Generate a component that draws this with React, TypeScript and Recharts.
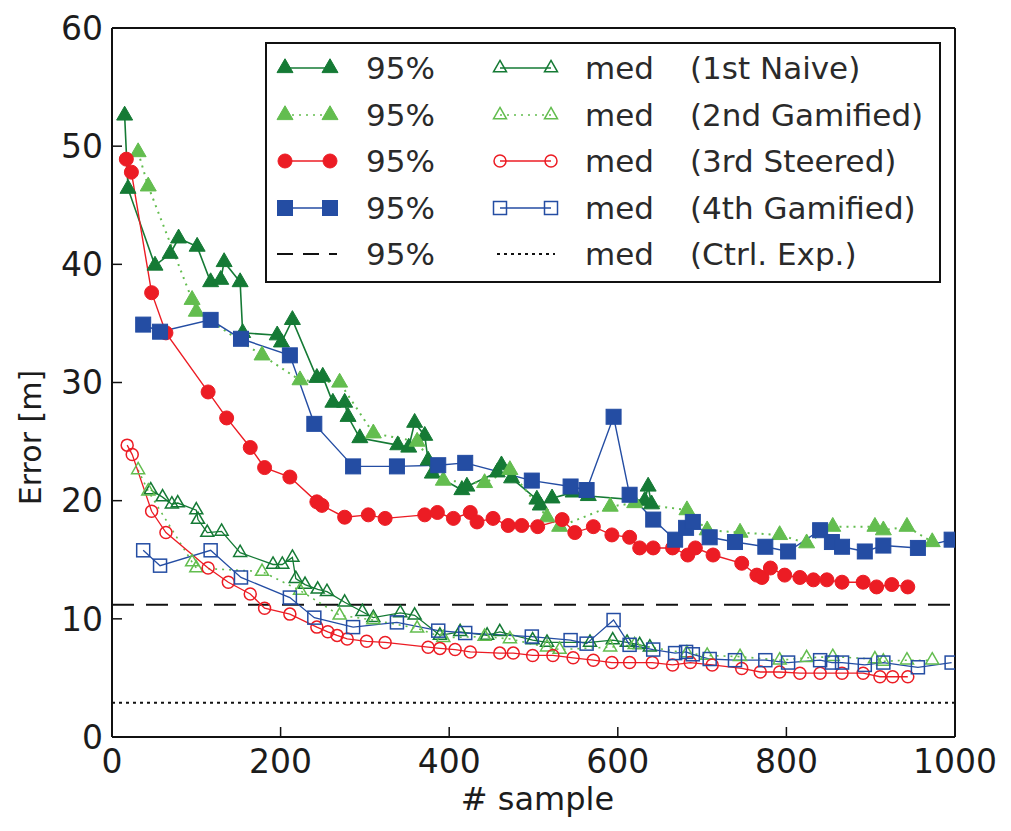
import React from 'react';
import { LineChart, Line, XAxis, YAxis, ReferenceLine } from 'recharts';

// ---------- data ----------
const X_TICKS = [0, 200, 400, 600, 800, 1000];
const Y_TICKS = [0, 10, 20, 30, 40, 50, 60];
const CTRL_95 = 11.2;
const CTRL_MED = 2.9;

const naive95: [number, number][] = [
  [15, 52.6], [19, 46.4], [51, 39.9], [69, 40.9], [79, 42.2], [101, 41.5], [117, 38.5], [129, 38.7], [133, 40.2],
  [152, 38.5], [155, 34.2], [196, 34.0], [201, 33.4], [214, 35.3], [243, 30.4], [250, 30.5], [262, 28.3], [276, 28.3],
  [280, 27.1], [294, 25.3], [339, 24.7], [352, 24.5], [359, 26.6], [371, 25.5], [375, 23.4], [380, 22.3], [415, 20.9],
  [421, 21.2], [457, 22.4], [462, 23.0], [474, 21.9], [504, 20.1], [508, 19.6], [522, 20.2], [547, 20.7], [565, 20.4],
  [632, 20.0], [636, 21.2], [640, 19.7],
];
const naiveMed: [number, number][] = [
  [46, 20.9], [60, 20.3], [71, 19.7], [78, 19.8], [100, 19.2], [102, 18.4], [113, 17.3], [130, 17.4], [152, 15.6],
  [191, 14.6], [202, 14.6], [214, 15.2], [218, 13.4], [229, 12.9], [244, 12.5], [255, 12.3], [276, 11.4], [297, 10.6],
  [310, 10.1], [342, 10.5], [359, 10.3], [389, 8.6], [413, 8.9], [445, 8.6], [460, 8.9], [499, 8.2], [516, 8.0],
  [567, 8.0], [594, 8.2], [611, 8.0], [626, 7.8], [638, 7.6],
];
const gam2_95: [number, number][] = [
  [31, 49.5], [43, 46.6], [95, 37.0], [100, 36.0], [178, 32.3], [223, 30.2], [270, 30.0], [310, 25.7], [362, 25.0],
  [393, 21.7], [442, 21.5], [472, 22.6], [516, 18.6], [531, 17.8], [591, 19.5], [620, 19.8], [682, 19.2], [706, 17.5],
  [745, 17.3], [792, 17.1], [824, 16.4], [855, 17.8], [905, 17.8], [915, 17.5], [943, 17.8], [973, 16.5],
];
const gam2Med: [number, number][] = [
  [31, 22.6], [43, 20.8], [95, 14.8], [100, 14.3], [178, 14.0], [223, 12.4], [270, 10.3], [310, 9.9], [362, 9.2],
  [393, 8.4], [442, 8.5], [472, 8.3], [516, 7.6], [531, 7.4], [591, 7.6], [620, 7.8], [682, 7.1], [706, 6.9],
  [745, 6.8], [792, 6.5], [824, 6.7], [855, 6.8], [905, 6.6], [915, 6.4], [943, 6.5], [973, 6.5],
];
const steered95: [number, number][] = [
  [17, 48.9], [23, 47.8], [47, 37.6], [64, 34.2], [114, 29.2], [136, 27.0], [164, 24.5], [181, 22.8], [211, 22.0],
  [243, 19.9], [249, 19.6], [276, 18.6], [304, 18.8], [324, 18.5], [371, 18.8], [386, 19.0], [405, 18.5], [425, 19.0],
  [433, 18.2], [452, 18.5], [470, 17.9], [486, 17.9], [505, 17.8], [534, 18.4], [549, 17.3], [571, 17.8], [593, 17.1],
  [614, 16.9], [626, 16.0], [642, 16.0], [665, 16.0], [683, 15.4], [692, 16.0], [713, 15.4], [747, 14.7], [765, 13.7],
  [771, 13.5], [781, 14.3], [798, 13.7], [816, 13.5], [832, 13.3], [848, 13.3], [866, 13.1], [891, 13.1], [907, 12.7],
  [925, 12.9], [944, 12.7],
];
const steeredMed: [number, number][] = [
  [18, 24.7], [24, 23.9], [47, 19.1], [64, 17.3], [114, 14.3], [138, 13.1], [164, 12.1], [181, 10.9], [211, 10.4],
  [243, 9.3], [256, 8.9], [267, 8.6], [279, 8.3], [302, 8.1], [324, 8.0], [375, 7.6], [389, 7.5], [407, 7.4],
  [425, 7.2], [460, 7.1], [476, 7.1], [499, 6.9], [523, 6.9], [547, 6.7], [571, 6.5], [593, 6.3], [614, 6.3],
  [641, 6.3], [665, 6.1], [686, 6.3], [712, 6.1], [747, 5.8], [769, 5.5], [792, 5.5], [816, 5.4], [840, 5.4],
  [866, 5.4], [891, 5.4], [911, 5.1], [926, 5.1], [944, 5.1],
];
const gam4_95: [number, number][] = [
  [37, 34.9], [57, 34.3], [117, 35.3], [153, 33.7], [211, 32.3], [240, 26.5], [286, 22.9], [338, 22.9], [387, 23.0],
  [419, 23.2], [498, 21.7], [544, 21.2], [563, 20.9], [595, 27.1], [614, 20.5], [642, 18.4], [668, 16.7], [681, 17.7],
  [689, 18.2], [709, 16.9], [739, 16.5], [775, 16.1], [802, 15.7], [840, 17.5], [854, 16.5], [866, 16.1], [893, 15.7],
  [915, 16.2], [956, 16.0], [996, 16.7],
];
const gam4Med: [number, number][] = [
  [37, 15.8], [57, 14.5], [117, 15.8], [153, 13.5], [211, 11.8], [240, 10.1], [286, 9.3], [338, 9.7], [387, 9.0],
  [419, 8.8], [498, 8.5], [544, 8.2], [563, 7.9], [595, 9.9], [614, 7.8], [642, 7.4], [668, 7.1], [681, 7.2],
  [689, 7.0], [709, 6.6], [739, 6.5], [775, 6.5], [802, 6.3], [840, 6.5], [854, 6.3], [866, 6.3], [893, 6.1],
  [915, 6.3], [956, 5.9], [996, 6.3],
];

const LEGEND_LABELS = ['(1st Naive)', '(2nd Gamified)', '(3rd Steered)', '(4th Gamified)', '(Ctrl. Exp.)'];
const LEGEND_95 = '95%';
const LEGEND_MED = 'med';

// ---------- style ----------
const DARK_GREEN = '#157a35';
const LIGHT_GREEN = '#63bd4f';
const RED = '#ec1c24';
const BLUE = '#244da3';
const FONT = 'DejaVu Sans, sans-serif';
const TEXT = '#1c1c1c';
const LEGEND_TEXT = '#2a2a2a';

const toData = (arr: [number, number][]) => arr.map(([x, y]) => ({ x, y }));

function triPath(cx: number, cy: number, s: number) {
  const h = s * 0.866;
  return `M${cx},${cy - (h * 2) / 3} L${cx + s / 2},${cy + h / 3} L${cx - s / 2},${cy + h / 3} Z`;
}

type Shape = 'tri' | 'circle' | 'square';

function Marker({ shape, cx, cy, color, filled }: { shape: Shape; cx: number; cy: number; color: string; filled: boolean }) {
  const fill = filled ? color : 'none';
  const sw = filled ? 1 : 1.5;
  if (shape === 'tri') {
    const s = filled ? 16 : 13;
    return <path d={triPath(cx, cy, s)} fill={fill} stroke={color} strokeWidth={sw} />;
  }
  if (shape === 'circle') {
    const r = filled ? 7 : 6;
    return <circle cx={cx} cy={cy} r={r} fill={fill} stroke={color} strokeWidth={sw} />;
  }
  const s = filled ? 15 : 13;
  return <rect x={cx - s / 2} y={cy - s / 2} width={s} height={s} fill={fill} stroke={color} strokeWidth={sw} />;
}

const makeDot = (shape: Shape, color: string, filled: boolean) => (props: any) => {
  const { cx, cy, index } = props;
  if (cx == null || cy == null) return <g key={`e-${index}`} />;
  return (
    <g key={`m-${index}`}>
      <Marker shape={shape} cx={cx} cy={cy} color={color} filled={filled} />
    </g>
  );
};

type SeriesDef = { data: [number, number][]; color: string; shape: Shape; filled: boolean; dash?: string; width: number };

const SERIES: SeriesDef[] = [
  { data: naive95, color: DARK_GREEN, shape: 'tri', filled: true, width: 1.6 },
  { data: naiveMed, color: DARK_GREEN, shape: 'tri', filled: false, width: 1.3 },
  { data: gam2_95, color: LIGHT_GREEN, shape: 'tri', filled: true, dash: '2 5', width: 2 },
  { data: gam2Med, color: LIGHT_GREEN, shape: 'tri', filled: false, dash: '2 5', width: 1.6 },
  { data: steered95, color: RED, shape: 'circle', filled: true, width: 1.4 },
  { data: steeredMed, color: RED, shape: 'circle', filled: false, width: 1.3 },
  { data: gam4_95, color: BLUE, shape: 'square', filled: true, width: 1.4 },
  { data: gam4Med, color: BLUE, shape: 'square', filled: false, width: 1.3 },
];

const LEGEND_ROWS: { color: string; shape: Shape | null; dash?: string; dashMed?: string }[] = [
  { color: DARK_GREEN, shape: 'tri' },
  { color: LIGHT_GREEN, shape: 'tri', dash: '2 5', dashMed: '2 5' },
  { color: RED, shape: 'circle' },
  { color: BLUE, shape: 'square' },
  { color: '#111', shape: null, dash: '16 10', dashMed: '3 4' },
];

function LegendBox() {
  const W = 676;
  const H = 241;
  const rowY = [26, 73, 119, 166, 212];
  return (
    <svg width={W} height={H} style={{ position: 'absolute', left: 257, top: 34 }}>
      <rect x={1} y={1} width={W - 2} height={H - 2} fill="white" stroke="#111" strokeWidth={2} />
      {LEGEND_ROWS.map((r, i) => {
        const y = rowY[i];
        const ctrl = r.shape === null;
        return (
          <g key={i}>
            <line x1={ctrl ? 12 : 20} x2={ctrl ? 72 : 65} y1={y} y2={y} stroke={r.color} strokeWidth={ctrl ? 2 : 1.6} strokeDasharray={r.dash} />
            {r.shape && <Marker shape={r.shape} cx={20} cy={y} color={r.color} filled />}
            {r.shape && <Marker shape={r.shape} cx={65} cy={y} color={r.color} filled />}
            <text x={101} y={y + 11} fontSize={31} fontFamily={FONT} fill={LEGEND_TEXT}>{LEGEND_95}</text>
            <line x1={ctrl ? 232 : 235} x2={ctrl ? 290 : 286} y1={y} y2={y} stroke={r.color} strokeWidth={ctrl ? 2 : 1.3} strokeDasharray={r.dashMed} />
            {r.shape && <Marker shape={r.shape} cx={235} cy={y} color={r.color} filled={false} />}
            {r.shape && <Marker shape={r.shape} cx={286} cy={y} color={r.color} filled={false} />}
            <text x={320} y={y + 11} fontSize={31} fontFamily={FONT} fill={LEGEND_TEXT}>{LEGEND_MED}</text>
            <text x={425} y={y + 11} fontSize={31} fontFamily={FONT} fill={LEGEND_TEXT}>{LEGEND_LABELS[i]}</text>
          </g>
        );
      })}
    </svg>
  );
}

const tickStyle = { fontSize: 33, fontFamily: FONT, fill: TEXT };
const axisLineStyle = { stroke: '#111', strokeWidth: 2 };
const tickLineStyle = { stroke: '#111', strokeWidth: 1.5 };

export default function App() {
  return (
    <div style={{ position: 'relative', width: 1003, height: 823, background: 'white' }}>
      <LineChart width={1003} height={823} margin={{ top: 15, right: 46, left: 24, bottom: 44 }}>
        <XAxis
          xAxisId={0}
          dataKey="x"
          type="number"
          domain={[0, 1000]}
          ticks={X_TICKS}
          allowDataOverflow
          height={50}
          tickSize={-10}
          tickMargin={23}
          axisLine={axisLineStyle}
          tickLine={tickLineStyle}
          tick={tickStyle}
          label={(p: any) => {
            const vb = p.viewBox;
            return (
              <text x={vb.x + vb.width / 2 + 4} y={vb.y + 73} textAnchor="middle" fontSize={32} fontFamily={FONT} fill={TEXT}>
                # sample
              </text>
            );
          }}
        />
        <XAxis
          xAxisId="top"
          orientation="top"
          type="number"
          domain={[0, 1000]}
          ticks={X_TICKS}
          height={5}
          tickSize={-10}
          axisLine={axisLineStyle}
          tickLine={tickLineStyle}
          tick={false}
        />
        <YAxis
          yAxisId={0}
          type="number"
          domain={[0, 60]}
          ticks={Y_TICKS}
          allowDataOverflow
          width={80}
          tickSize={-10}
          tickMargin={19}
          axisLine={axisLineStyle}
          tickLine={tickLineStyle}
          tick={tickStyle}
          label={(p: any) => {
            const vb = p.viewBox;
            const x = vb.x + 9;
            const y = vb.y + vb.height / 2 + 55;
            return (
              <text x={x} y={y} transform={`rotate(-90, ${x}, ${y})`} textAnchor="middle" fontSize={30} fontFamily={FONT} fill={TEXT}>
                Error [m]
              </text>
            );
          }}
        />
        <YAxis
          yAxisId="right"
          orientation="right"
          type="number"
          domain={[0, 60]}
          ticks={Y_TICKS}
          width={10}
          tickSize={-10}
          axisLine={axisLineStyle}
          tickLine={tickLineStyle}
          tick={false}
        />
        <ReferenceLine y={CTRL_95} stroke="#111" strokeWidth={2} strokeDasharray="22 12" />
        <ReferenceLine y={CTRL_MED} stroke="#111" strokeWidth={2} strokeDasharray="3 4" />
        {SERIES.map((s, i) => (
          <Line
            key={i}
            data={toData(s.data)}
            dataKey="y"
            type="linear"
            stroke={s.color}
            strokeWidth={s.width}
            strokeDasharray={s.dash}
            dot={makeDot(s.shape, s.color, s.filled)}
            activeDot={false}
            isAnimationActive={false}
            legendType="none"
          />
        ))}
      </LineChart>
      <LegendBox />
    </div>
  );
}
